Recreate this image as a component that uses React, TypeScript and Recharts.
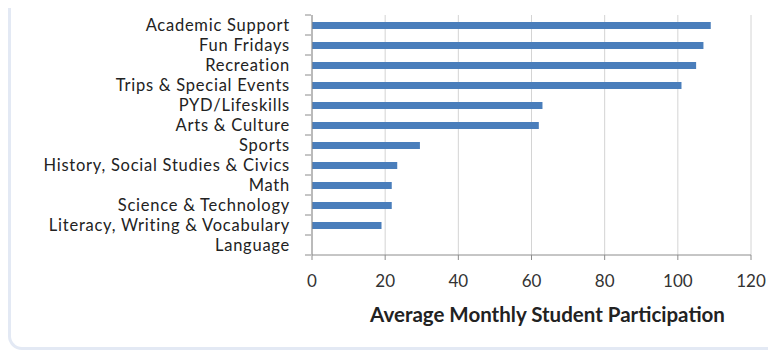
import React from "react";
import { BarChart, Bar, XAxis, YAxis, CartesianGrid } from "recharts";

const categories = [
  "Academic Support",
  "Fun Fridays",
  "Recreation",
  "Trips & Special Events",
  "PYD/Lifeskills",
  "Arts & Culture",
  "Sports",
  "History, Social Studies & Civics",
  "Math",
  "Science & Technology",
  "Literacy, Writing & Vocabulary",
  "Language",
];
const participation = [109, 107, 105, 101, 63, 62, 29.5, 23.3, 21.8, 21.8, 19, 0];
const xTicks = [0, 20, 40, 60, 80, 100, 120];
const xTitle = "Average Monthly Student Participation";

const data = categories.map((c, i) => ({ name: c, value: participation[i] }));

const FONT = "Lato, 'Open Sans', sans-serif";
const BAND = 20;

const YTick = (props: any) => {
  const { x, y, payload, index } = props;
  return (
    <g>
      <line x1={x + 1} x2={x + 7} y1={y - BAND / 2} y2={y - BAND / 2} stroke="#8c8c8c" />
      {index === categories.length - 1 && (
        <line x1={x + 1} x2={x + 7} y1={y + BAND / 2} y2={y + BAND / 2} stroke="#8c8c8c" />
      )}
      <text
        x={x - 14}
        y={y}
        dy={5.5}
        textAnchor="end"
        fontSize={16.5}
        letterSpacing={0.75}
        fill="#222"
        fontFamily={FONT}
      >
        {payload.value}
      </text>
    </g>
  );
};

export default function App() {
  return (
    <div style={{ position: "relative", width: 768, height: 344 }}>
      <style>{`html, body { overflow: hidden; } .recharts-surface, .recharts-wrapper { overflow: visible !important; }`}</style>
      <div
        style={{
          position: "absolute",
          left: 0,
          top: -20,
          width: 768,
          height: 362,
          borderLeft: "3px solid #e3e9f4",
          borderBottom: "3px solid #e3e9f4",
          borderBottomLeftRadius: 14,
          boxSizing: "border-box",
        }}
      />
      <BarChart
        width={768}
        height={344}
        data={data}
        layout="vertical"
        margin={{ top: 7, right: 25, bottom: 0, left: 0 }}
        style={{ position: "absolute", left: 0, top: 0, overflow: "visible" }}
      >
        <CartesianGrid horizontal={false} vertical={true} stroke="#d4d4d4" />
        <XAxis
          type="number"
          domain={[0, 120]}
          ticks={xTicks}
          height={97}
          stroke="#8c8c8c"
          tickLine={{ stroke: "#8c8c8c" }}
          tickSize={5}
          tick={{ fill: "#333", fontSize: 17, fontFamily: FONT, dy: 13 }}
          label={{
            value: xTitle,
            position: "insideTop",
            offset: 52,
            fill: "#222",
            fontSize: 20.5,
            fontWeight: 700,
            fontFamily: FONT,
            dx: 16,
          }}
        />
        <YAxis
          type="category"
          dataKey="name"
          width={304}
          stroke="#8c8c8c"
          tickLine={false}
          tick={<YTick />}
          interval={0}
        />
        <Bar dataKey="value" fill="#4a7ebb" barSize={7} isAnimationActive={false} />
      </BarChart>
    </div>
  );
}
